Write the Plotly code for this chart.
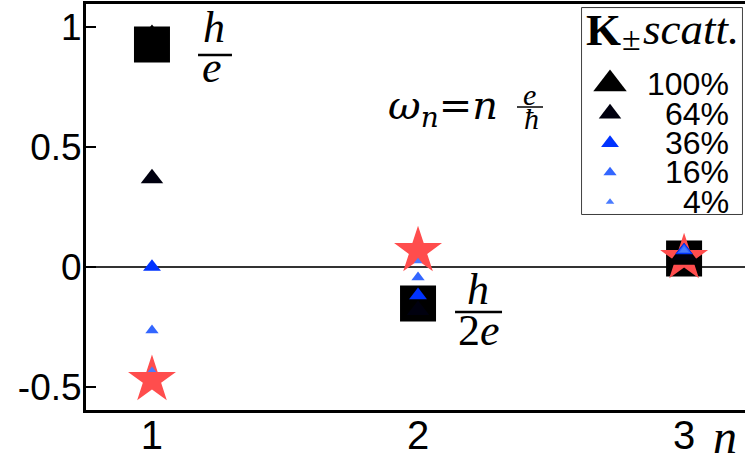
import plotly.graph_objects as go

# harmonic index n
n_vals = [1, 2, 3]

# h/e (square) and red star series
square_vals = [0.927, -0.152, 0.035]
star_vals = [-0.47, 0.067, 0.038]

# K± scattering strength series (triangles)
scatt_labels = ['100%', '64%', '36%', '16%', '4%']
tri_100 = [0.95, -0.16, 0.04]
tri_64 = [0.369, -0.18, 0.05]
tri_36 = [0.0, -0.118, 0.069]
tri_16 = [-0.264, -0.043, 0.07]
tri_4 = [-0.43, 0.023, 0.07]

y_ticks = [-0.5, 0, 0.5, 1]
y_ticktext = ['-0.5', '0', '0.5', '1']

tri_series = [tri_100, tri_64, tri_36, tri_16, tri_4]
tri_colors = ['#000000', '#00000f', '#0033ff', '#3366ff', '#4a7bff']
tri_sizes = [29, 19.5, 15.5, 11.5, 7.5]

SANS = 'Liberation Sans, Arial, sans-serif'
SERIF = 'Liberation Serif, Times New Roman, serif'
WIDE_SERIF = 'DejaVu Serif, serif'

fig = go.Figure()

fig.add_trace(go.Scatter(
  x=n_vals, y=square_vals, mode='markers',
  marker=dict(symbol='square', size=36, color='#000000', line=dict(width=0)),
  showlegend=False
))
fig.add_trace(go.Scatter(
  x=n_vals, y=star_vals, mode='markers',
  marker=dict(symbol='star', size=36, color='#ff4d4d', line=dict(width=0)),
  showlegend=False
))
for vals, col, sz in zip(tri_series, tri_colors, tri_sizes):
  fig.add_trace(go.Scatter(
    x=n_vals, y=vals, mode='markers',
    marker=dict(symbol='triangle-up', size=sz, color=col, line=dict(width=0)),
    showlegend=False
  ))

# hand-drawn legend on a second, hidden subplot
rows = list(range(len(scatt_labels)))
for i, (col, sz) in enumerate(zip(tri_colors, tri_sizes)):
  fig.add_trace(go.Scatter(
    x=[0.175], y=[rows[i]], mode='markers', xaxis='x2', yaxis='y2',
    marker=dict(symbol='triangle-up', size=sz, color=col, line=dict(width=0)),
    showlegend=False, hoverinfo='skip'
  ))

annotations = []
for i, lab in enumerate(scatt_labels):
  annotations.append(dict(
    x=0.93, y=rows[i], xref='x2', yref='y2', text=lab, showarrow=False,
    xanchor='right', yanchor='middle', font=dict(family=SANS, size=32, color='black')
  ))

def txt(x, y, text, size, family=SERIF, xanchor='center'):
  return dict(x=x, y=y, xref='paper', yref='paper', text=text, showarrow=False,
              xanchor=xanchor, yanchor='middle', font=dict(family=family, size=size, color='black'))

annotations += [
  # legend title
  txt(0.7557, 0.936, '<b>K</b>', 45, xanchor='left'),
  txt(0.8285, 0.9138, '±', 34),
  txt(0.8422, 0.9372, '<i>scatt.</i>', 45, xanchor='left'),
  # h/e
  txt(0.1942, 0.9409, '<i>h</i>', 44),
  txt(0.1912, 0.8424, '<i>e</i>', 44),
  # h/2e
  txt(0.5948, 0.2956, '<i>h</i>', 44),
  txt(0.5964, 0.1970, '2<i>e</i>', 44),
  # omega_n = n e/hbar
  txt(0.4552, 0.7438, '<i>ω</i><sub><i>n</i></sub>=<i>n</i>', 40, family=WIDE_SERIF, xanchor='left'),
  txt(0.6737, 0.7783, '<i>e</i>', 30),
  txt(0.6753, 0.7192, '<i>ħ</i>', 30),
  # axis title
  txt(0.9697, -0.0665, '<i>n</i>', 48),
]

shapes = [
  dict(type='rect', xref='paper', yref='paper', x0=0.7527, x1=0.9954, y0=0.4828, y1=0.990,
       line=dict(color='black', width=1.5), fillcolor='white', layer='below'),
  dict(type='line', xref='paper', yref='paper', x0=0.170, x1=0.2215, y0=0.8744, y1=0.8744,
       line=dict(color='black', width=2.5)),
  dict(type='line', xref='paper', yref='paper', x0=0.560, x1=0.6313, y0=0.2414, y1=0.2414,
       line=dict(color='black', width=2.5)),
  dict(type='line', xref='paper', yref='paper', x0=0.654, x1=0.6935, y0=0.7463, y1=0.7463,
       line=dict(color='black', width=1.5)),
]

fig.update_layout(
  width=745, height=459,
  margin=dict(l=86, r=0, t=4, b=49, autoexpand=False),
  plot_bgcolor='white', paper_bgcolor='white',
  showlegend=False,
  xaxis=dict(
    range=[0.752, 3.229], tickvals=n_vals, ticktext=[str(v) for v in n_vals],
    showline=True, linecolor='black', linewidth=3, mirror=True,
    showgrid=False, zeroline=False, ticks='', automargin=False,
    ticklabelstandoff=-12,
    tickfont=dict(family=SANS, size=40, color='black')
  ),
  yaxis=dict(
    range=[-0.596, 1.096], tickvals=y_ticks, ticktext=y_ticktext,
    showline=True, linecolor='black', linewidth=3, mirror=False,
    showgrid=False, zeroline=True, zerolinecolor='#333333', zerolinewidth=1.5,
    ticks='inside', ticklen=10, tickwidth=2, tickcolor='black', automargin=False,
    ticklabelstandoff=-6,
    tickfont=dict(family=SANS, size=37, color='black')
  ),
  xaxis2=dict(domain=[0.7527, 0.9954], range=[0, 1], anchor='y2', visible=False),
  yaxis2=dict(domain=[0.4828, 0.990], range=[4.407, -2.576], anchor='x2', visible=False),
  annotations=annotations,
  shapes=shapes,
)

# drop the browser's default page margin so the figure sits at the window corner
fig.write_html(
  'out.html',
  config=dict(displayModeBar=False),
  post_script="document.body.style.margin='0';"
)
